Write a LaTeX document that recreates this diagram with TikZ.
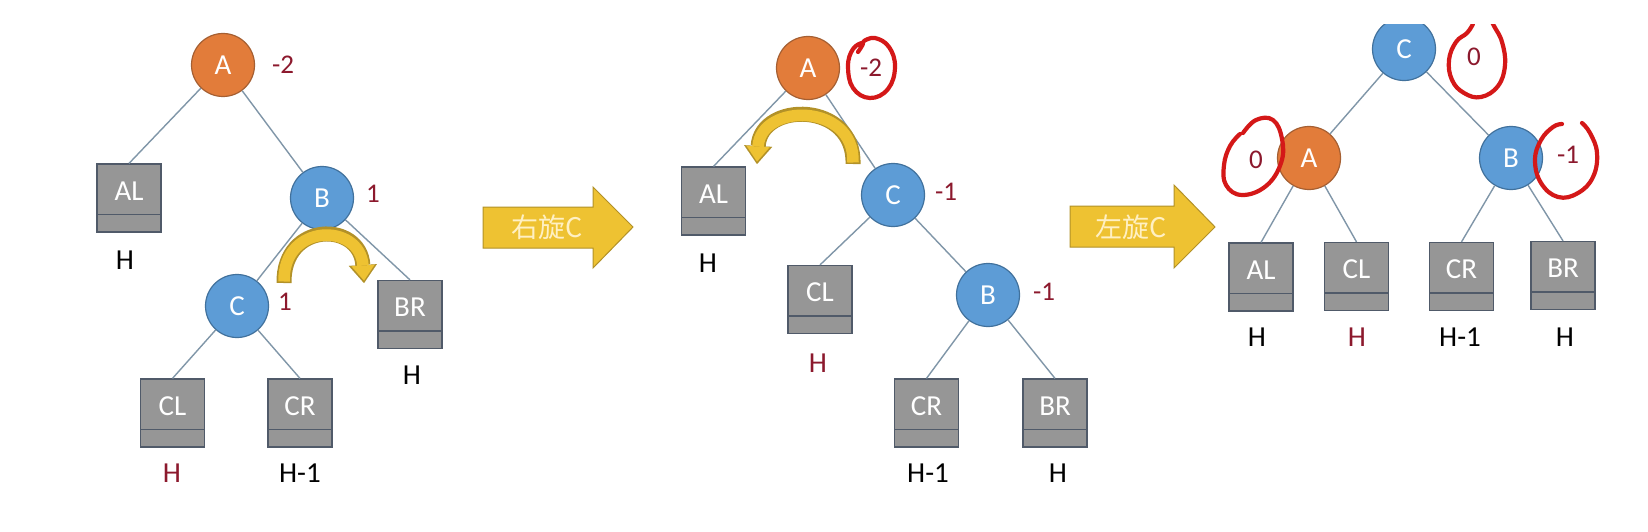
\documentclass[tikz,border=0pt]{standalone}
\usepackage{fontspec}
\setmainfont{Carlito}
\newfontfamily\cjk{Noto Sans CJK SC}
\usetikzlibrary{arrows.meta}
\definecolor{orn}{RGB}{226,124,58}
\definecolor{ornd}{RGB}{165,95,50}
\definecolor{blu}{RGB}{93,156,214}
\definecolor{blud}{RGB}{65,113,156}
\definecolor{boxg}{RGB}{150,150,150}
\definecolor{boxd}{RGB}{80,90,105}
\definecolor{edgec}{RGB}{128,150,168}
\definecolor{dred}{RGB}{140,25,45}
\definecolor{hred}{RGB}{212,24,24}
\definecolor{gold}{RGB}{238,194,50}
\definecolor{goldd}{RGB}{178,145,40}
\definecolor{cream}{RGB}{255,240,195}
\begin{document}
\begin{tikzpicture}[x=1pt,y=-1pt,
  every node/.style={inner sep=0pt},
  vtx/.style={circle, minimum size=63pt, line width=1.2pt, text=white, font=\fontsize{29}{31}\selectfont},
  ovtx/.style={vtx, fill=orn, draw=ornd},
  bvtx/.style={vtx, fill=blu, draw=blud},
  subtree/.style={rectangle, minimum width=64pt, minimum height=68pt, fill=boxg, draw=boxd, line width=1.2pt,
    text=white, font=\fontsize{29}{31}\selectfont, text height=17pt, text depth=12.6pt,
    path picture={\draw[boxd, line width=1.2pt] ([yshift=17.5pt]path picture bounding box.south west) -- ([yshift=17.5pt]path picture bounding box.south east);}},
  num/.style={text=dred, font=\fontsize{27}{29}\selectfont},
  hlab/.style={text=black, font=\fontsize{29}{31}\selectfont},
  hlabr/.style={hlab, text=dred},
  link/.style={draw=edgec, line width=1.4pt},
  bigarrow/.style={fill=gold, draw=goldd, line width=1pt},
  arrowtext/.style={text=cream, font=\cjk\fontsize{27}{30}\selectfont},
  redloop/.style={draw=hred, line width=4.2pt, line cap=round, line join=round},
  turnout/.style={draw=goldd, line width=15pt, -{Triangle[width=28pt,length=18pt,line width=0.01pt]}},
  turnin/.style={draw=gold, line width=11.5pt, -{Triangle[width=23pt,length=15pt,line width=0.01pt]}}
]
\useasboundingbox[fill=white] (0,0) rectangle (1648,532);

% ---------------- tree 1 ----------------
\node[ovtx] (A1) at (223,65) {A};
\node[num] (nA1) at (283,65) {-2};
\node[subtree] (AL1) at (129,198) {AL};
\node[hlab] (hAL1) at (125,260) {H};
\node[bvtx] (B1) at (322,198) {B};
\node[num] (nB1) at (373,194) {1};
\node[bvtx] (C1) at (237,306) {C};
\node[num] (nC1) at (285,302) {1};
\node[subtree] (BR1) at (410,314.5) {BR};
\node[hlab] (hBR1) at (412,375) {H};
\node[subtree] (CL1) at (172.5,413) {CL};
\node[hlabr] (hCL1) at (172,473) {H};
\node[subtree] (CR1) at (300,413) {CR};
\node[hlab] (hCR1) at (300,473) {H-1};
\draw[link] (A1) -- (AL1.north);
\draw[link] (A1) -- (B1);
\draw[link] (B1) -- (C1);
\draw[link] (B1) -- (BR1.north);
\draw[link] (C1) -- (CL1.north);
\draw[link] (C1) -- (CR1.north);
\coordinate (r1s) at (284,283);
\coordinate (r1e) at (364,283);
\coordinate (r1si) at (284,281.5);
\coordinate (r1ei) at (364,280.5);
\draw[turnout] (r1s) .. controls (283,221) and (360,221) .. (r1e);
\draw[turnin] (r1si) .. controls (283,222.5) and (360,222.5) .. (r1ei);

% ---------------- arrow 1 ----------------
\draw[bigarrow] (483,207) -- (593,207) -- (593,187) -- (633,227) -- (593,268) -- (593,248) -- (483,248) -- cycle;
\node[arrowtext] (rot1) at (547,227) {右旋C};

% ---------------- tree 2 ----------------
\node[ovtx] (A2) at (808,68) {A};
\node[num] (nA2) at (871,68) {-2};
\node[subtree] (AL2) at (713.5,201) {AL};
\node[hlab] (hAL2) at (708,263) {H};
\node[bvtx] (C2) at (893,195) {C};
\node[num] (nC2) at (946,192) {-1};
\node[subtree] (CL2) at (820,299.5) {CL};
\node[hlabr] (hCL2) at (818,363) {H};
\node[bvtx] (B2) at (988,295) {B};
\node[num] (nB2) at (1044,292) {-1};
\node[subtree] (CR2) at (926.5,413) {CR};
\node[hlab] (hCR2) at (928,473) {H-1};
\node[subtree] (BR2) at (1055,413) {BR};
\node[hlab] (hBR2) at (1058,473) {H};
\draw[link] (A2) -- (AL2.north);
\draw[link] (A2) -- (C2);
\draw[link] (C2) -- (CL2.north);
\draw[link] (C2) -- (B2);
\draw[link] (B2) -- (CR2.north);
\draw[link] (B2) -- (BR2.north);
\coordinate (r2s) at (853,164);
\coordinate (r2e) at (757,164);
\coordinate (r2si) at (853,162.5);
\coordinate (r2ei) at (757,161.5);
\draw[turnout] (r2s) .. controls (855,101) and (761,101) .. (r2e);
\draw[turnin] (r2si) .. controls (855,102.5) and (761,102.5) .. (r2ei);
\draw[redloop] plot[smooth, tension=0.7] coordinates {(858,52) (863,43) (853,49) (848,66) (853,88) (870,98) (888,89) (895,67) (889,47) (875,38) (864,41)};

% ---------------- arrow 2 ----------------
\draw[bigarrow] (1070,206) -- (1174,206) -- (1174,185) -- (1215,227) -- (1174,268) -- (1174,247) -- (1070,247) -- cycle;
\node[arrowtext] (rot2) at (1131,227) {左旋C};

% ---------------- tree 3 ----------------
\begin{scope}
\clip (1000,25) rectangle (1648,532);
\node[bvtx] (C3) at (1404,49) {C};
\node[num] (nC3) at (1474,57) {0};
\node[ovtx] (A3) at (1309,158) {A};
\node[num] (nA3) at (1256,160) {0};
\node[bvtx] (B3) at (1511,158) {B};
\node[num] (nB3) at (1568,155) {-1};
\node[subtree] (AL3) at (1261,277) {AL};
\node[hlab] (hAL3) at (1257,337) {H};
\node[subtree] (CL3) at (1356.5,276.5) {CL};
\node[hlabr] (hCL3) at (1357,337) {H};
\node[subtree] (CR3) at (1461.5,276.5) {CR};
\node[hlab] (hCR3) at (1460,337) {H-1};
\node[subtree] (BR3) at (1563,275.5) {BR};
\node[hlab] (hBR3) at (1565,337) {H};
\draw[link] (C3) -- (A3);
\draw[link] (C3) -- (B3);
\draw[link] (A3) -- (AL3.north);
\draw[link] (A3) -- (CL3.north);
\draw[link] (B3) -- (CR3.north);
\draw[link] (B3) -- (BR3.north);
\draw[redloop] plot[smooth, tension=0.7] coordinates {(1473,24) (1467,33) (1456,42) (1449,60) (1452,80) (1464,93) (1481,97) (1498,86) (1505,65) (1502,42) (1494,26) (1490,18)};
\draw[redloop] plot[smooth, tension=0.7] coordinates {(1243,133) (1256,120) (1273,120) (1282,139) (1281,163) (1266,186) (1242,195) (1226,185) (1224,165) (1230,146) (1240,134)};
\draw[redloop] plot[smooth, tension=0.7] coordinates {(1562,124) (1553,127) (1541,140) (1535,160) (1541,183) (1558,197) (1578,193) (1593,177) (1597,153) (1590,133) (1582,123)};
\end{scope}
\end{tikzpicture}
\end{document}
